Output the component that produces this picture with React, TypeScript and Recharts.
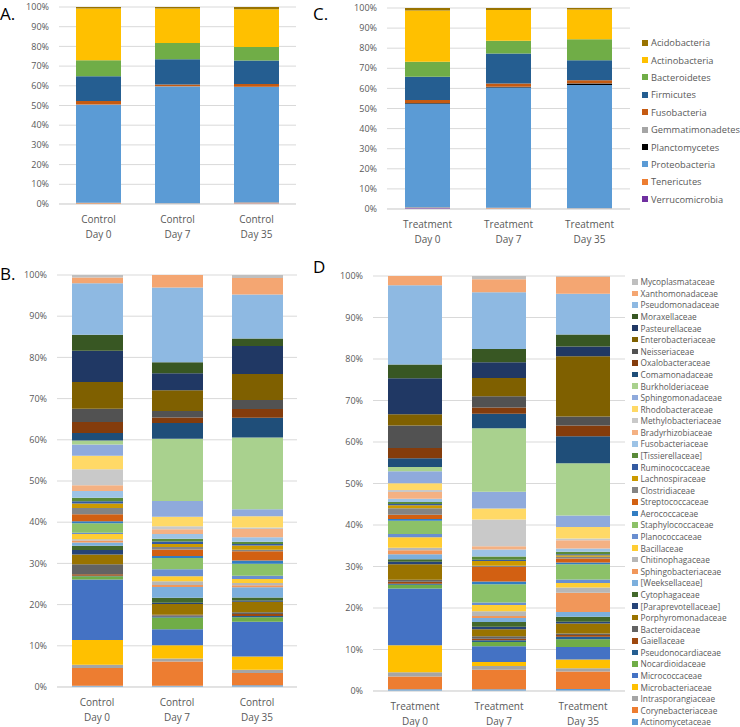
import React from 'react';
import { BarChart, Bar, XAxis, YAxis, CartesianGrid } from 'recharts';

// samples (x categories)
const controlSamples = ['Control Day 0', 'Control Day 7', 'Control Day 35'];
const treatmentSamples = ['Treatment Day 0', 'Treatment Day 7', 'Treatment Day 35'];

// y axis ticks (fractions, chart is 100% stacked)
const pctTicks = [0, 0.1, 0.2, 0.3, 0.4, 0.5, 0.6, 0.7, 0.8, 0.9, 1];
// category boundaries, for the small tick marks under the x axis
const boundaryTicks = [0, 1, 2, 3];

// phyla, bottom of stack first
const phyla = [
  'Verrucomicrobia', 'Tenericutes', 'Proteobacteria', 'Planctomycetes', 'Gemmatimonadetes',
  'Fusobacteria', 'Firmicutes', 'Bacteroidetes', 'Actinobacteria', 'Acidobacteria',
];
const phylaColors = [
  '#7030A0', '#ED7D31', '#5B9BD5', '#000000', '#A5A5A5',
  '#C55A11', '#255E91', '#70AD47', '#FFC000', '#997300',
];

// relative abundance (%) per sample, same order as phyla
const controlDay0Phyla = [0, 0.6, 49.8, 0, 0.1, 1.8, 12.5, 8.2, 26.3, 0.7];
const controlDay7Phyla = [0, 0.3, 59.4, 0, 0.1, 0.9, 12.8, 8.2, 17.6, 0.7];
const controlDay35Phyla = [0.3, 0.5, 58.6, 0, 0.1, 1.4, 11.9, 6.9, 19.2, 1.1];
const treatmentDay0Phyla = [0.5, 0.3, 51.4, 0.4, 0.1, 1.5, 11.6, 7.5, 25.4, 1.3];
const treatmentDay7Phyla = [0.1, 0.5, 59.9, 0.2, 0.1, 1.7, 14.9, 6.3, 15.3, 1.0];
const treatmentDay35Phyla = [0, 0.2, 61.5, 0.8, 0.1, 1.4, 10.0, 10.4, 14.9, 0.7];

// families, bottom of stack first
const families = [
  'Actinomycetaceae', 'Corynebacteriaceae', 'Intrasporangiaceae', 'Microbacteriaceae', 'Micrococcaceae',
  'Nocardioidaceae', 'Pseudonocardiaceae', 'Gaiellaceae', 'Bacteroidaceae', 'Porphyromonadaceae',
  '[Paraprevotellaceae]', 'Cytophagaceae', '[Weeksellaceae]', 'Sphingobacteriaceae', 'Chitinophagaceae',
  'Bacillaceae', 'Planococcaceae', 'Staphylococcaceae', 'Aerococcaceae', 'Streptococcaceae',
  'Clostridiaceae', 'Lachnospiraceae', 'Ruminococcaceae', '[Tissierellaceae]', 'Fusobacteriaceae',
  'Bradyrhizobiaceae', 'Methylobacteriaceae', 'Rhodobacteraceae', 'Sphingomonadaceae', 'Burkholderiaceae',
  'Comamonadaceae', 'Oxalobacteraceae', 'Neisseriaceae', 'Enterobacteriaceae', 'Pasteurellaceae',
  'Moraxellaceae', 'Pseudomonadaceae', 'Xanthomonadaceae', 'Mycoplasmataceae',
];
const familyColors = [
  '#5B9BD5', '#ED7D31', '#A5A5A5', '#FFC000', '#4472C4',
  '#70AD47', '#255E91', '#9E480E', '#636363', '#997300',
  '#264478', '#43682B', '#7CAFDD', '#F1975A', '#B7B7B7',
  '#FFCD33', '#698ED0', '#8CC168', '#327DC2', '#D26012',
  '#848484', '#CC9A00', '#335AA1', '#5A8A39', '#9DC3E6',
  '#F4B183', '#C9C9C9', '#FFD966', '#8FAADC', '#A9D18E',
  '#1F4E79', '#843C0C', '#525252', '#7F6000', '#203864',
  '#385723', '#8EB9E2', '#F4A672', '#BFBFBF',
];

const controlDay0Families = [
  0.3, 4.3, 0.8, 6.0, 14.7, 0.8, 0.1, 0.4, 2.4, 2.4, 1.1, 1.0, 0.8, 0.5, 0.3, 1.3, 0.3, 2.3, 0.5, 1.7,
  1.5, 1.1, 0.5, 0.9, 1.6, 1.4, 3.9, 3.3, 2.7, 1.0, 1.8, 2.7, 3.2, 6.5, 7.6, 3.9, 12.5, 1.4, 0.6,
];
const controlDay7Families = [
  0.3, 5.9, 0.7, 3.2, 3.9, 2.8, 0.3, 0.2, 0.2, 2.6, 0.3, 1.2, 2.6, 0.5, 0.9, 1.2, 1.7, 2.7, 0.5, 1.6,
  0.6, 0.7, 0.6, 0.7, 1.1, 1.2, 0.7, 2.3, 3.8, 15.1, 3.8, 1.3, 1.6, 5.0, 4.1, 2.7, 18.1, 3.0, 0,
];
const controlDay35Families = [
  0.4, 3.0, 0.8, 3.2, 8.4, 1.1, 0.3, 0.5, 0.4, 2.6, 0.3, 0.7, 2.5, 0.5, 0.5, 1.0, 0.8, 2.9, 0.8, 2.2,
  0.4, 1.0, 0.4, 0.5, 1.1, 2.0, 0.4, 2.7, 1.7, 17.4, 4.8, 2.1, 2.2, 6.3, 6.8, 1.8, 10.7, 4.0, 0.7,
];
const treatmentDay0Families = [
  0.4, 3.1, 1.0, 6.5, 13.7, 0.9, 0.2, 0.5, 0.5, 3.7, 0.6, 0.6, 1.2, 1.0, 0.6, 2.5, 0.8, 3.2, 0.4, 1.0,
  1.6, 0.7, 0.3, 0.5, 0.8, 1.6, 0.5, 1.6, 2.9, 1.0, 2.1, 2.5, 5.4, 2.7, 8.7, 3.3, 19.1, 2.2, 0,
];
const treatmentDay7Families = [
  0.4, 4.7, 0.9, 1.0, 3.8, 1.0, 0.4, 0.4, 0.6, 1.7, 0.6, 1.1, 1.0, 0.5, 1.1, 1.5, 0.6, 4.4, 0.7, 3.5,
  0.3, 1.1, 0.3, 0.8, 1.7, 0.8, 6.4, 2.7, 4.0, 15.3, 3.5, 1.5, 2.7, 4.4, 3.8, 3.2, 13.7, 3.1, 0.8,
];
const treatmentDay35Families = [
  0.5, 4.2, 0.8, 2.1, 3.0, 1.9, 0.6, 0.4, 0.4, 2.4, 0.4, 1.2, 1.2, 4.6, 1.3, 1.1, 0.8, 3.7, 0.4, 1.0,
  0.4, 0.4, 0.2, 0.6, 0.8, 2.0, 0.4, 2.8, 2.8, 12.6, 6.5, 2.6, 2.2, 14.5, 2.4, 2.9, 9.8, 4.1, 0.2,
];

const FONT = '"Open Sans", sans-serif';
const GRID = '#D9D9D9';
const TEXT = '#595959';

// keys are s0..sN so names with brackets don't get read as paths
const buildRows = (samples: string[], values: number[][]) =>
  samples.map((sample, i) => {
    const row: Record<string, any> = { sample };
    values[i].forEach((v, j) => {
      row['s' + j] = v;
    });
    return row;
  });

const SampleTick = (props: any) => {
  const { x, y, payload } = props;
  const label = String(payload.value);
  const cut = label.indexOf(' ');
  return (
    <text x={x} y={y} textAnchor="middle" fill={TEXT} fontSize={10} fontFamily={FONT}>
      <tspan x={x} dy={11}>{label.slice(0, cut)}</tspan>
      <tspan x={x} dy={15}>{label.slice(cut + 1)}</tspan>
    </text>
  );
};

const NoLabel = () => null;

interface PanelProps {
  left: number;
  top: number;
  width: number;
  height: number;
  margin: { top: number; right: number; bottom: number; left: number };
  yWidth: number;
  xHeight: number;
  barSize: number;
  rows: Record<string, any>[];
  names: string[];
  colors: string[];
}

const Panel: React.FC<PanelProps> = ({ left, top, width, height, margin, yWidth, xHeight, barSize, rows, names, colors }) => (
  <div style={{ position: 'absolute', left, top, width, height }}>
    <BarChart width={width} height={height} data={rows} margin={margin} stackOffset="expand" barSize={barSize}>
      <CartesianGrid vertical={false} stroke={GRID} />
      {/* only draws the little marks between categories */}
      <XAxis
        xAxisId="marks"
        type="number"
        domain={[0, 3]}
        ticks={boundaryTicks}
        height={0}
        axisLine={false}
        tickSize={4}
        tickLine={{ stroke: GRID }}
        tick={<NoLabel />}
      />
      <XAxis
        dataKey="sample"
        interval={0}
        height={xHeight}
        tickLine={false}
        axisLine={{ stroke: GRID }}
        tick={<SampleTick />}
      />
      <YAxis
        width={yWidth}
        domain={[0, 1]}
        ticks={pctTicks}
        interval={0}
        axisLine={false}
        tickLine={false}
        tickMargin={4}
        tick={{ fill: TEXT, fontSize: 9, fontFamily: FONT }}
        tickFormatter={(v: number) => `${Math.round(v * 100)}%`}
      />
      {names.map((n, i) => (
        <Bar key={n} dataKey={'s' + i} name={n} stackId="s" fill={colors[i]} isAnimationActive={false} />
      ))}
    </BarChart>
  </div>
);

const Legend2: React.FC<{ names: string[]; colors: string[]; left: number; top: number; step: number; box: number; fontSize: number }> = ({
  names, colors, left, top, step, box, fontSize,
}) => {
  // drawn top to bottom, i.e. reverse of stack order (like Excel does)
  const items = names.map((n, i) => ({ n, c: colors[i] })).reverse();
  return (
    <div style={{ position: 'absolute', left, top, fontFamily: FONT, fontSize, color: TEXT }}>
      {items.map((it, i) => (
        <div key={it.n} style={{ position: 'absolute', top: i * step, left: 0, height: step, display: 'flex', alignItems: 'center', whiteSpace: 'nowrap' }}>
          <span style={{ display: 'inline-block', width: box, height: box, background: it.c, marginRight: 3 }} />
          <span>{it.n}</span>
        </div>
      ))}
    </div>
  );
};

const letter = (t: string, left: number, top: number) => (
  <div style={{ position: 'absolute', left, top, fontFamily: FONT, fontSize: 17, color: '#000', lineHeight: '20px' }}>{t}</div>
);

export default function App() {
  const aRows = buildRows(controlSamples, [controlDay0Phyla, controlDay7Phyla, controlDay35Phyla]);
  const cRows = buildRows(treatmentSamples, [treatmentDay0Phyla, treatmentDay7Phyla, treatmentDay35Phyla]);
  const bRows = buildRows(controlSamples, [controlDay0Families, controlDay7Families, controlDay35Families]);
  const dRows = buildRows(treatmentSamples, [treatmentDay0Families, treatmentDay7Families, treatmentDay35Families]);

  return (
    <div style={{ position: 'absolute', left: 0, top: 0, width: 740, height: 727, overflow: 'hidden', background: '#fff' }}>
      <Panel left={0} top={0} width={300} height={250} margin={{ top: 7, right: 4, bottom: 6, left: 0 }}
        yWidth={59} xHeight={40} barSize={45} rows={aRows} names={phyla} colors={phylaColors} />
      <Panel left={330} top={0} width={303} height={255} margin={{ top: 8, right: 3, bottom: 6, left: 0 }}
        yWidth={57} xHeight={40} barSize={45} rows={cRows} names={phyla} colors={phylaColors} />
      <Panel left={0} top={268} width={300} height={459} margin={{ top: 7, right: 3, bottom: 0, left: 0 }}
        yWidth={57} xHeight={40} barSize={51} rows={bRows} names={families} colors={familyColors} />
      <Panel left={330} top={268} width={300} height={459} margin={{ top: 8, right: 5, bottom: 0, left: 0 }}
        yWidth={43} xHeight={36} barSize={54} rows={dRows} names={families} colors={familyColors} />

      <Legend2 names={phyla} colors={phylaColors} left={642} top={34} step={17.4} box={6} fontSize={9.3} />
      <Legend2 names={families} colors={familyColors} left={632} top={276} step={11.58} box={5.5} fontSize={8.3} />

      {letter('A.', 0, 4)}
      {letter('C.', 313, 4)}
      {letter('B.', 0, 264)}
      {letter('D', 313, 257)}
    </div>
  );
}
